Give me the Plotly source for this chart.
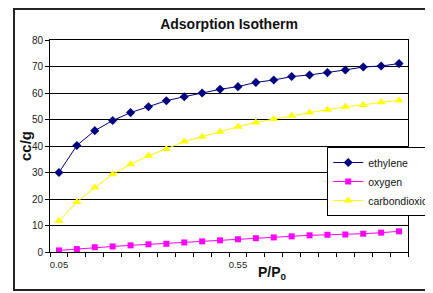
import base64
import plotly.graph_objects as go

# ---- data ----
p_p0 = [0.05, 0.10, 0.15, 0.20, 0.25, 0.30, 0.35, 0.40, 0.45, 0.50,
        0.55, 0.60, 0.65, 0.70, 0.75, 0.80, 0.85, 0.90, 0.95, 1.00]
ethylene = [30.0, 40.2, 45.8, 49.6, 52.6, 54.8, 57.1, 58.6, 60.0, 61.4,
            62.4, 64.0, 64.9, 66.2, 66.8, 67.7, 68.7, 69.8, 70.2, 71.1]
oxygen = [0.6, 1.1, 1.8, 2.1, 2.5, 2.9, 3.1, 3.6, 4.0, 4.4,
          4.8, 5.2, 5.5, 5.9, 6.3, 6.5, 6.6, 6.9, 7.3, 7.8]
carbondioxide = [11.7, 18.9, 24.3, 29.3, 33.1, 36.3, 38.9, 41.7, 43.5, 45.4,
                 47.3, 48.9, 50.2, 51.4, 52.6, 53.7, 54.8, 55.5, 56.5, 57.2]
x_tick_vals = [0.05, 0.55]
x_tick_text = ["0.05", "0.55"]
x_boundaries = [0.025 + 0.05 * k for k in range(21)]
y_tick_vals = [0, 10, 20, 30, 40, 50, 60, 70, 80]

FONT = "Liberation Sans, Arial, sans-serif"
X_RANGE = [0.025, 1.025]

OFF = 8  # page body margin offset
W, H = 433, 293
# target page-pixel geometry of the plot area
PL, PR, PT, PB = 50, 407.7, 40, 252
L = PL - OFF
T = PT - OFF
R = W - (PR - OFF)
B = H - (PB - OFF)
pw = PR - PL
ph = PB - PT

def px(x):
    return (x - PL) / pw

def py(y):
    return (PB - y) / ph

fig = go.Figure()
fig.add_trace(go.Scatter(x=p_p0, y=ethylene, name="ethylene", mode="lines+markers",
                         line=dict(color="#000080", width=1),
                         marker=dict(symbol="diamond", size=7, color="#000080")))
fig.add_trace(go.Scatter(x=p_p0, y=oxygen, name="oxygen", mode="lines+markers",
                         line=dict(color="#FF00FF", width=1),
                         marker=dict(symbol="square", size=6, color="#FF00FF")))
fig.add_trace(go.Scatter(x=p_p0, y=carbondioxide, name="carbondioxide", mode="lines+markers",
                         line=dict(color="#FFFF00", width=1),
                         marker=dict(symbol="triangle-up", size=8, color="#FFFF00")))
# empty trace on the overlay axis that carries the x tick labels
fig.add_trace(go.Scatter(x=[], y=[], xaxis="x2", yaxis="y", showlegend=False,
                         hoverinfo="skip"))

# outer chart-area frame as a small SVG image (page px 13..445 x 8..291)
IMG_X, IMG_Y, IMG_W, IMG_H = 13, 8, 432, 283
frame_svg = (
    f'<svg xmlns="http://www.w3.org/2000/svg" width="{IMG_W}" height="{IMG_H}" '
    f'viewBox="0 0 {IMG_W} {IMG_H}"><rect x="1" y="1" width="{IMG_W - 2}" '
    f'height="{IMG_H - 2}" fill="none" stroke="#222" stroke-width="2"/></svg>'
)
frame_uri = "data:image/svg+xml;base64," + base64.b64encode(frame_svg.encode()).decode()

fig.update_layout(
    width=W, height=H,
    margin=dict(l=L, r=R, t=T, b=B, autoexpand=False),
    paper_bgcolor="white", plot_bgcolor="white",
    font=dict(family=FONT, color="#111"),
    title=dict(text="<b>Adsorption Isotherm</b>", x=0.5, xref="paper",
               y=1 - (24 - OFF) / H, yref="container", yanchor="middle",
               font=dict(size=14, color="#111")),
    xaxis=dict(range=X_RANGE, tickvals=x_boundaries, showticklabels=False,
               ticks="outside", ticklen=4, tickcolor="black", tickwidth=1,
               showgrid=False, zeroline=False,
               showline=True, linecolor="black", linewidth=1, mirror=True),
    xaxis2=dict(range=X_RANGE, overlaying="x", anchor="y", side="bottom",
                tickvals=x_tick_vals, ticktext=x_tick_text,
                ticks="outside", ticklen=4, tickcolor="rgba(0,0,0,0)",
                showgrid=False, zeroline=False, showline=False,
                tickfont=dict(size=9.5, color="#222")),
    yaxis=dict(range=[0, 80], tickvals=y_tick_vals, ticks="outside", ticklen=4,
               tickcolor="black", showgrid=True, gridcolor="black", gridwidth=1,
               zeroline=False, showline=True, linecolor="black", linewidth=1,
               mirror=True, tickfont=dict(size=10, color="#222")),
    legend=dict(x=px(327), y=py(147), xanchor="left", yanchor="top",
                bgcolor="white", bordercolor="black", borderwidth=1,
                font=dict(size=10.5, color="#111"), traceorder="normal"),
    showlegend=True,
    images=[
        dict(source=frame_uri, xref="paper", yref="paper",
             x=px(IMG_X), y=py(IMG_Y), sizex=IMG_W / pw, sizey=IMG_H / ph,
             xanchor="left", yanchor="top", sizing="stretch", layer="above"),
    ],
    annotations=[
        dict(text="<b>cc/g</b>", textangle=-90, x=px(25), y=py(146),
             xref="paper", yref="paper", showarrow=False,
             xanchor="center", yanchor="middle", font=dict(size=15, color="#111")),
        dict(text="<b>P/P<sub>0</sub></b>", x=px(272), y=py(273),
             xref="paper", yref="paper", showarrow=False,
             xanchor="center", yanchor="middle", font=dict(size=14, color="#111")),
    ],
)

fig.write_html("out.html")
